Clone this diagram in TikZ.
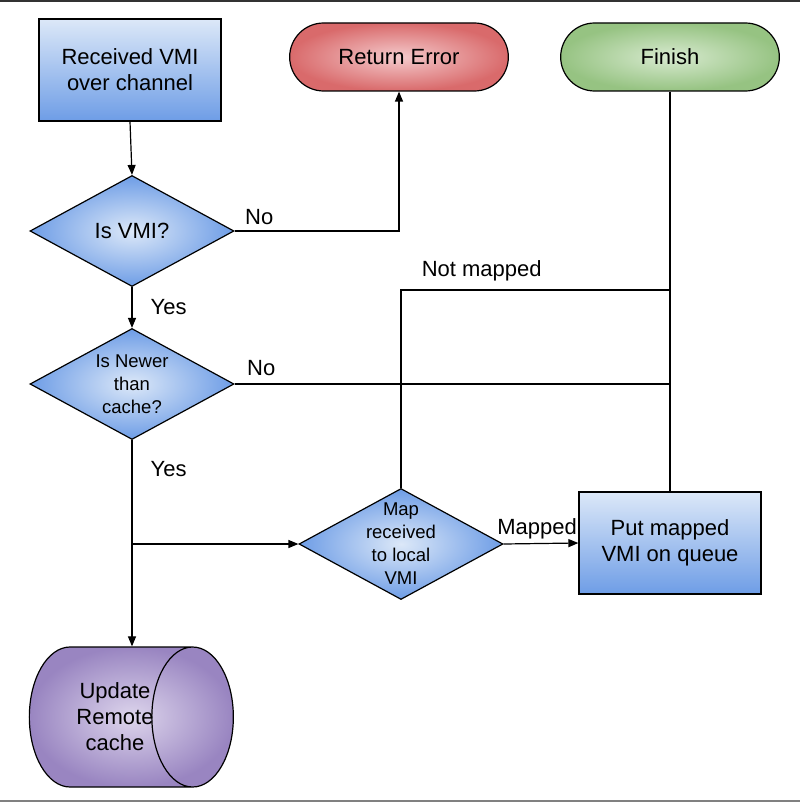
\documentclass[tikz,border=0pt]{standalone}
\usepackage{fontspec}
\setmainfont{Liberation Sans}
\usetikzlibrary{shapes.geometric,shapes.misc,arrows.meta}
\definecolor{boxtop}{HTML}{DCE8F8}
\definecolor{boxbot}{HTML}{6E9DE6}
\definecolor{redin}{HTML}{F4CACC}
\definecolor{redout}{HTML}{D96A6B}
\definecolor{grnin}{HTML}{D8EAD0}
\definecolor{grnout}{HTML}{96C382}
\definecolor{purin}{HTML}{DDD5EC}
\definecolor{purout}{HTML}{9985C1}
\tikzset{
  procbox/.style = {draw = black, line width = 0.6pt, top color = boxtop, bottom color = boxbot,
    minimum width = 91pt, minimum height = 51pt, align = center, font = \fontsize{11}{13}\selectfont},
  termbox/.style = {draw = black, line width = 0.6pt, rounded rectangle, shading = radial,
    minimum width = 116pt, minimum height = 34pt, font = \fontsize{11}{13}\selectfont},
  decision/.style = {draw = black, line width = 0.6pt, diamond, shading = radial,
    inner color = boxtop, outer color = boxbot, inner sep = 0pt,
    minimum width = 102pt, minimum height = 55.5pt},
  dtext/.style = {align = center, font = \fontsize{9.25}{11.5}\selectfont},
  conn/.style = {line width = 0.6pt},
  arr/.style = {conn, -{Triangle[length=5pt,width=4pt]}},
  lbl/.style = {font = \fontsize{11}{13}\selectfont, inner sep = 1pt}
}
\begin{document}
\begin{tikzpicture}[x=0.5pt,y=-0.5pt]
\useasboundingbox (0,0) rectangle (800,802);
\draw[color = black!80, line width = 1pt] (0,1) -- (800,1);
\draw[color = black!50, line width = 1pt] (0,800.5) -- (800,800.5);
% shapes
\node[procbox] (recv) at (130,70) {Received VMI\\over channel};
\node[termbox, inner color = redin, outer color = redout] (reterr) at (399,57) {Return Error};
\node[termbox, inner color = grnin, outer color = grnout] (finish) at (670,57) {Finish};
\node[decision, label = {[dtext, font = \fontsize{11}{13}\selectfont]center:Is VMI?}] (isvmi) at (132,231) {};
\node[decision, label = {[dtext]center:Is Newer\\than\\cache?}] (isnewer) at (132,384) {};
\node[decision, label = {[dtext]center:Map\\received\\to local\\VMI}] (mapd) at (401,544) {};
\node[procbox] (putq) at (670,543) {Put mapped\\VMI on queue};
\node[draw = black, line width = 0.6pt, cylinder, shape aspect = 1, shading = radial,
  inner color = purin, outer color = purout, minimum width = 70pt, minimum height = 102pt,
  align = center, font = \fontsize{11}{13}\selectfont,
  label = {[align = center, font = \fontsize{11}{13}\selectfont, xshift = 6.5pt]center:Update\\Remote\\cache}]
  (cache) at (102,717) {\phantom{Update}\\\phantom{Remote}\\\phantom{cache}};
% junctions
\coordinate (jnewer) at (finish.south |- isnewer.east);
\coordinate (jmap) at (isnewer.south |- mapd.west);
\coordinate (jnot) at (finish.south |- 0,290);
\coordinate (jcache) at (isnewer.south |- cache.north);
% connectors
\draw[arr] (recv.south) -- (isvmi.north);
\draw[arr] (isvmi.east) -| (reterr.south) node[lbl, pos = 0, anchor = south west, xshift = 4pt, yshift = 2pt] {No};
\draw[arr] (isvmi.south) -- (isnewer.north) node[lbl, midway, right, xshift = 8pt] {Yes};
\draw[conn] (isnewer.east) -- (jnewer) node[lbl, pos = 0, anchor = south west, xshift = 5pt, yshift = 3pt] {No};
\draw[conn] (finish.south) -- (putq.north);
\draw[arr] (isnewer.south) -- (jcache) node[lbl, pos = 0.14, right, xshift = 8pt] {Yes};
\draw[arr] (jmap) -- (mapd.west);
\draw[arr] (mapd.east) -- (putq.west) node[lbl, midway, above, yshift = 1pt, xshift = -2pt] {Mapped};
\draw[conn] (mapd.north) |- (jnot) node[lbl, pos = 0.65, above, yshift = 3pt] {Not mapped};
\end{tikzpicture}
\end{document}
